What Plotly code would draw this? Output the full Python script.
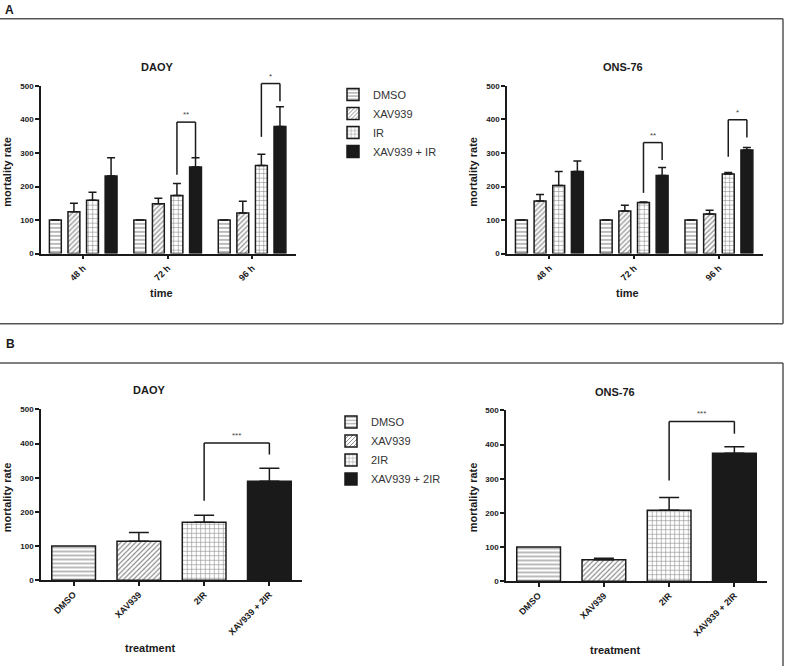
import plotly.graph_objects as go

W, H = 790, 671

# ---------------- data ----------------
groups_A = ["48 h", "72 h", "96 h"]
series_A = ["DMSO", "XAV939", "IR", "XAV939 + IR"]
daoy_A_mean = [[100, 100, 100], [125, 149, 121], [159, 173, 263], [231, 258, 379]]
daoy_A_err = [[0, 0, 0], [25, 16, 35], [24, 36, 33], [55, 28, 59]]
ons_A_mean = [[100, 100, 100], [157, 127, 118], [203, 152, 237], [245, 233, 309]]
ons_A_err = [[0, 0, 0], [19, 17, 11], [42, 2, 5], [31, 24, 7]]

cats_B = ["DMSO", "XAV939", "2IR", "XAV939 + 2IR"]
daoy_B_mean = [100, 114, 170, 290]
daoy_B_err = [0, 26, 20, 38]
ons_B_mean = [100, 63, 208, 375]
ons_B_err = [0, 4, 37, 19]

# significance brackets (group index, left start, top, right end, label)
sig_A_daoy_group = [1, 2]
sig_A_daoy_start = [235, 348]
sig_A_daoy_top = [392, 507]
sig_A_daoy_end = [287, 454]
sig_A_daoy_label = ["**", "*"]

sig_A_ons_group = [1, 2]
sig_A_ons_start = [181, 289]
sig_A_ons_top = [331, 399]
sig_A_ons_end = [279, 346]
sig_A_ons_label = ["**", "*"]

sig_B_daoy = dict(left=2, right=3, start=233, top=402, end=368, label="***")
sig_B_ons = dict(left=2, right=3, start=295, top=468, end=432, label="***")

yticks = [0, 100, 200, 300, 400, 500]
YMAX = 500

# ---------------- style ----------------
FONT = "Liberation Sans, Arial, sans-serif"
INK = "#1a1a1a"
patterns = [
    dict(shape="-", size=4, solidity=0.3, fgcolor=INK, bgcolor="white"),
    dict(shape="/", size=3.5, solidity=0.35, fgcolor=INK, bgcolor="white"),
    dict(shape="+", size=4.5, solidity=0.25, fgcolor=INK, bgcolor="white"),
    dict(shape="", fgcolor=INK, bgcolor=INK),
]
fillcols = ["white", "white", "white", INK]

BARGAP = 0.12
BARGROUPGAP = 0.36
XR_A = [-0.5, 2.52]
XR_B = [-0.5, 3.5]

fig = go.Figure()


def add_grouped(means, errs, xa, ya, legend_on):
    for k, name in enumerate(series_A):
        fig.add_trace(go.Bar(
            x=groups_A, y=means[k], name=name, xaxis=xa, yaxis=ya,
            marker=dict(color=fillcols[k], pattern=patterns[k],
                        line=dict(color=INK, width=1.5)),
            error_y=dict(type="data", array=errs[k], arrayminus=[0] * len(errs[k]),
                         symmetric=False, color=INK, thickness=1.5, width=4,
                         visible=True),
            showlegend=legend_on, legend="legend",
        ))


def add_single(means, errs, xa, ya, legend_on):
    for k, name in enumerate(cats_B):
        fig.add_trace(go.Bar(
            x=[cats_B[k]], y=[means[k]], name=name, xaxis=xa, yaxis=ya,
            width=0.67, offset=-0.335,
            marker=dict(color=fillcols[k], pattern=patterns[k],
                        line=dict(color=INK, width=1.5)),
            error_y=dict(type="data", array=[errs[k]], arrayminus=[0],
                         symmetric=False, color=INK, thickness=1.5, width=10,
                         visible=errs[k] > 0),
            showlegend=legend_on, legend="legend2",
        ))


add_grouped(daoy_A_mean, daoy_A_err, "x", "y", True)
add_grouped(ons_A_mean, ons_A_err, "x2", "y2", False)
add_single(daoy_B_mean, daoy_B_err, "x3", "y3", True)
add_single(ons_B_mean, ons_B_err, "x4", "y4", False)


def px_x(p):
    return p / W


def px_y(p):
    return 1 - p / H


ytickfont = dict(family=FONT, size=8, color=INK, weight="bold")
xtickfont = dict(family=FONT, size=9, color=INK, weight="bold")


def xaxis(dom, rng, cats):
    return dict(domain=[px_x(dom[0]), px_x(dom[1])], range=rng, type="category",
                categoryorder="array", categoryarray=cats,
                showline=True, linecolor=INK, linewidth=1.5,
                ticks="outside", ticklen=4, tickwidth=1.5, tickcolor=INK,
                tickangle=-45, tickfont=xtickfont, showgrid=False, zeroline=False,
                fixedrange=True)


def yaxis(dom):
    return dict(domain=[px_y(dom[1]), px_y(dom[0])], range=[0, YMAX],
                tickvals=yticks, showline=True, linecolor=INK, linewidth=1.5,
                ticks="outside", ticklen=4, tickwidth=1.5, tickcolor=INK,
                tickfont=ytickfont, showgrid=False, zeroline=False, fixedrange=True)


layout = dict(
    width=W, height=H, autosize=False,
    margin=dict(l=0, r=0, t=0, b=0),
    paper_bgcolor="white", plot_bgcolor="white",
    barmode="group", bargap=BARGAP, bargroupgap=BARGROUPGAP,
    font=dict(family=FONT, color=INK),
    xaxis=dict(xaxis([41, 296], XR_A, groups_A), anchor="y"),
    yaxis=dict(yaxis([83, 253]), anchor="x"),
    xaxis2=dict(xaxis([507, 763], XR_A, groups_A), anchor="y2"),
    yaxis2=dict(yaxis([83, 253]), anchor="x2"),
    xaxis3=dict(xaxis([41, 302], XR_B, cats_B), anchor="y3"),
    yaxis3=dict(yaxis([411, 584]), anchor="x3"),
    xaxis4=dict(xaxis([506, 767], XR_B, cats_B), anchor="y4"),
    yaxis4=dict(yaxis([412, 585]), anchor="x4"),
    legend=dict(x=px_x(333), y=px_y(77), xanchor="left", yanchor="top",
                font=dict(family=FONT, size=11, color="#333"),
                bgcolor="rgba(0,0,0,0)", traceorder="normal"),
    legend2=dict(x=px_x(331), y=px_y(409), xanchor="left", yanchor="top",
                 font=dict(family=FONT, size=11, color="#333"),
                 bgcolor="rgba(0,0,0,0)", traceorder="normal"),
)
fig.update_layout(**layout)

shapes = []
annotations = []

# frames
FR = dict(color="#555", width=1.5)
shapes += [
    dict(type="line", xref="paper", yref="paper", x0=0, x1=px_x(783), y0=px_y(15), y1=px_y(15), line=FR),
    dict(type="line", xref="paper", yref="paper", x0=px_x(783), x1=px_x(783), y0=px_y(15), y1=px_y(324), line=FR),
    dict(type="line", xref="paper", yref="paper", x0=0, x1=px_x(783), y0=px_y(324), y1=px_y(324), line=FR),
    dict(type="line", xref="paper", yref="paper", x0=0, x1=px_x(783), y0=px_y(364), y1=px_y(364), line=FR),
    dict(type="line", xref="paper", yref="paper", x0=px_x(783), x1=px_x(783), y0=px_y(364), y1=0, line=FR),
]


def bar_x(group, k, nser=4):
    slot = (1 - BARGAP) / nser
    return group - (1 - BARGAP) / 2 + slot * (k + 0.5)


def bracket(xa, ya, xl, xr, start, top, end, label):
    yd = ya + " domain"
    L = dict(color=INK, width=1.5)
    shapes.append(dict(type="line", xref=xa, yref=yd, x0=xl, x1=xl,
                       y0=start / YMAX, y1=top / YMAX, line=L))
    shapes.append(dict(type="line", xref=xa, yref=yd, x0=xl, x1=xr,
                       y0=top / YMAX, y1=top / YMAX, line=L))
    shapes.append(dict(type="line", xref=xa, yref=yd, x0=xr, x1=xr,
                       y0=top / YMAX, y1=end / YMAX, line=L))
    annotations.append(dict(xref=xa, yref=yd, x=(xl + xr) / 2, y=top / YMAX,
                            yanchor="bottom", yshift=1, text=label, showarrow=False,
                            font=dict(family=FONT, size=8, color="#444")))


for g, s, t, e, lab in zip(sig_A_daoy_group, sig_A_daoy_start, sig_A_daoy_top,
                           sig_A_daoy_end, sig_A_daoy_label):
    bracket("x", "y", bar_x(g, 2), bar_x(g, 3), s, t, e, lab)
for g, s, t, e, lab in zip(sig_A_ons_group, sig_A_ons_start, sig_A_ons_top,
                           sig_A_ons_end, sig_A_ons_label):
    bracket("x2", "y2", bar_x(g, 2), bar_x(g, 3), s, t, e, lab)
for sig, xa, ya in [(sig_B_daoy, "x3", "y3"), (sig_B_ons, "x4", "y4")]:
    bracket(xa, ya, sig["left"], sig["right"], sig["start"], sig["top"], sig["end"], sig["label"])


def text(xp, yp, s, size=11, bold=True, angle=0, xanchor="center", color=INK):
    annotations.append(dict(xref="paper", yref="paper", x=px_x(xp), y=px_y(yp),
                            text=s, showarrow=False, textangle=angle,
                            xanchor=xanchor, yanchor="middle",
                            font=dict(family=FONT, size=size, color=color,
                                      weight="bold" if bold else "normal")))


text(9, 6, "A", size=12, xanchor="center")
text(10, 345, "B", size=12, xanchor="center")
text(157, 64, "DAOY")
text(623, 64, "ONS-76")
text(149, 391, "DAOY")
text(615, 393, "ONS-76")
text(7, 170, "mortality rate", angle=-90)
text(473, 170, "mortality rate", angle=-90)
text(7, 500, "mortality rate", angle=-90)
text(473, 500, "mortality rate", angle=-90)
text(161, 293, "time")
text(627, 293, "time")
text(150, 653, "treatment")
text(615, 655, "treatment")

fig.update_layout(shapes=shapes, annotations=annotations)
fig.write_html("out.html")
